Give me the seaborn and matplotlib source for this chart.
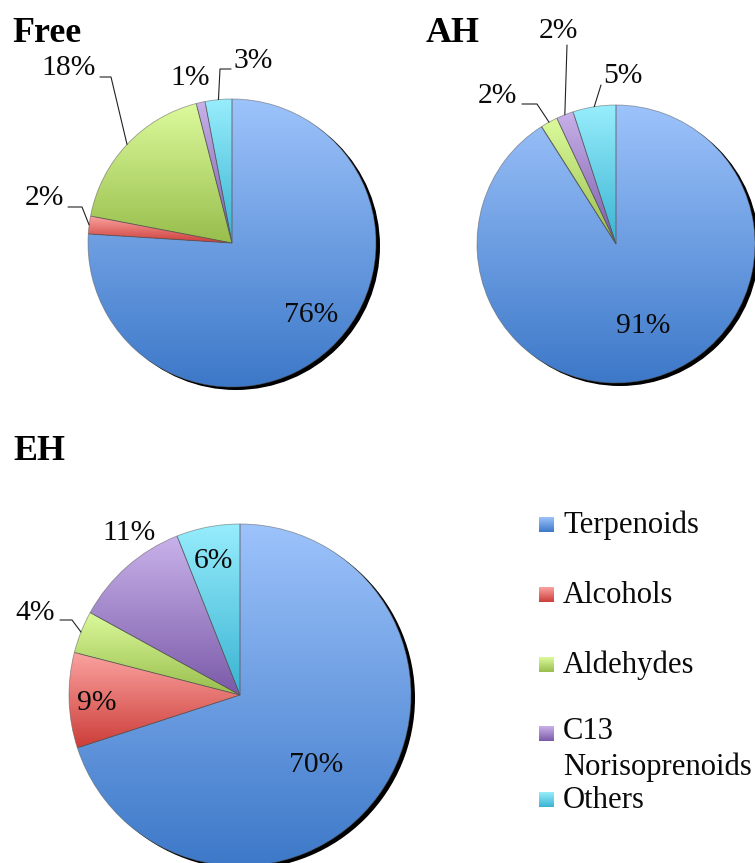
import numpy as np
import matplotlib
matplotlib.use("Agg")
import matplotlib.pyplot as plt
import seaborn as sns
from matplotlib.colors import to_rgb
from matplotlib.patches import Circle, Rectangle

# ---- data -------------------------------------------------------------
categories = ["Terpenoids", "Alcohols", "Aldehydes", "C13\nNorisoprenoids", "Others"]
free_pct = [76, 2, 18, 1, 3]
ah_pct = [91, 0, 2, 2, 5]
eh_pct = [70, 9, 4, 11, 6]
panel_titles = ["Free", "AH", "EH"]

# light (top) and dark (bottom) ends of each slice gradient
top_colors = ["#9DC3FB", "#FBA3A0", "#DCFA9C", "#C8B2EA", "#97EDFC"]
bottom_colors = ["#3C78C8", "#CC3D39", "#98BE4C", "#7B5AA8", "#3AB3D2"]

# ---- style ------------------------------------------------------------
sns.set_theme(style="white")
plt.rcParams["font.family"] = ["Liberation Serif", "DejaVu Serif"]

W, H = 755, 863
fig = plt.figure(figsize=(W / 100, H / 100), dpi=100)
ax = fig.add_axes([0, 0, 1, 1])
ax.set_axis_off()


def Y(y):
    """pixel row measured from the top -> axis y (upwards)"""
    return H - y


def gradient(top, bottom, n=256):
    t = np.linspace(0, 1, n)[:, None]
    a, b = np.array(to_rgb(top)), np.array(to_rgb(bottom))
    return (a[None, :] * (1 - t) + b[None, :] * t)[:, None, :]


# layout of each panel: centre/radius in pixels, title position and
# label placement (x, baseline, leader elbow points or None)
panels = [
    dict(values=free_pct, center=(232, 243), radius=144, title=(12, 42),
         labels={0: (311, 322, None),
                 1: (44, 205, [(68, 207), (82, 207)]),
                 2: (69, 75, [(100, 77), (111, 77)]),
                 3: (190, 85, None),
                 4: (253, 68, [(231, 69), (220, 69)])}),
    dict(values=ah_pct, center=(616, 244), radius=139, title=(426, 42),
         labels={0: (643, 333, None),
                 2: (497, 103, [(522, 104), (537, 104)]),
                 3: (558, 38, [(567, 45)]),
                 4: (623, 83, [(601, 85)])}),
    dict(values=eh_pct, center=(240, 695), radius=171, title=(13, 460),
         labels={0: (316, 772, None),
                 1: (97, 710, None),
                 2: (35, 620, [(60, 620), (72, 620)]),
                 3: (129, 540, None),
                 4: (213, 568, None)}),
]

PCT_SIZE = 21.3
TITLE_SIZE = 25.8
LEGEND_SIZE = 22.1
LEGEND_LINE_GAP = 33  # pixels between wrapped legend lines

for title, p in zip(panel_titles, panels):
    cx, cy = p["center"]
    r = p["radius"]
    # drop shadow behind the pie
    ax.add_patch(Circle((cx + 4, Y(cy) - 3), r, facecolor="black",
                        edgecolor="none", zorder=1))
    wedges, _ = ax.pie(p["values"], startangle=90, counterclock=False,
                       center=(cx, Y(cy)), radius=r, colors=bottom_colors,
                       wedgeprops=dict(linewidth=0.6,
                                       edgecolor=(0.35, 0.35, 0.35, 0.55)))
    for i, (w, v) in enumerate(zip(wedges, p["values"])):
        w.set_zorder(3)
        if v == 0:
            continue
        w.set_facecolor("none")
        verts = w.get_path().vertices
        x0, y0 = verts.min(axis=0)
        x1, y1 = verts.max(axis=0)
        im = ax.imshow(gradient(top_colors[i], bottom_colors[i]),
                       extent=(x0, x1, y0, y1), origin="upper",
                       aspect="auto", interpolation="bilinear", zorder=2)
        im.set_clip_path(w)

    # percentage labels
    for i, (tx, ty, leader) in p["labels"].items():
        v = p["values"][i]
        ax.text(tx, Y(ty), f"{v}%", ha="center", va="baseline",
                fontsize=PCT_SIZE, color="#0a0a0a", zorder=5)
        if leader:
            w = wedges[i]
            mid = np.deg2rad((w.theta1 + w.theta2) / 2)
            ex, ey = cx + r * np.cos(mid), Y(cy) + r * np.sin(mid)
            xs = [px for px, _ in leader] + [ex]
            ys = [Y(py) for _, py in leader] + [ey]
            ax.plot(xs, ys, color="#222222", lw=0.8, zorder=5)

    ax.text(p["title"][0], Y(p["title"][1]), title, ha="left",
            va="baseline", fontsize=TITLE_SIZE, fontweight="bold",
            color="black", zorder=5)

# ---- legend -----------------------------------------------------------
legend_rows = [533, 603, 673, 742, 808]
for i, (name, base) in enumerate(zip(categories, legend_rows)):
    sq = Rectangle((539, Y(base) + 1), 15, 15, facecolor="none",
                   edgecolor="none", zorder=3)
    ax.add_patch(sq)
    im = ax.imshow(gradient(top_colors[i], bottom_colors[i]),
                   extent=(539, 554, Y(base) + 1, Y(base) + 16),
                   origin="upper", aspect="auto", interpolation="bilinear",
                   zorder=2)
    im.set_clip_path(sq)
    # the baseline anchor of wrapped text sits on its last line
    extra = name.count("\n") * LEGEND_LINE_GAP
    ax.text(563, Y(base + extra), name, ha="left", va="baseline",
            fontsize=LEGEND_SIZE, color="#0a0a0a", linespacing=1.27)

ax.set_xlim(0, W)
ax.set_ylim(0, H)
ax.set_aspect("auto")

fig.savefig("out.png", dpi=100, facecolor="white")
